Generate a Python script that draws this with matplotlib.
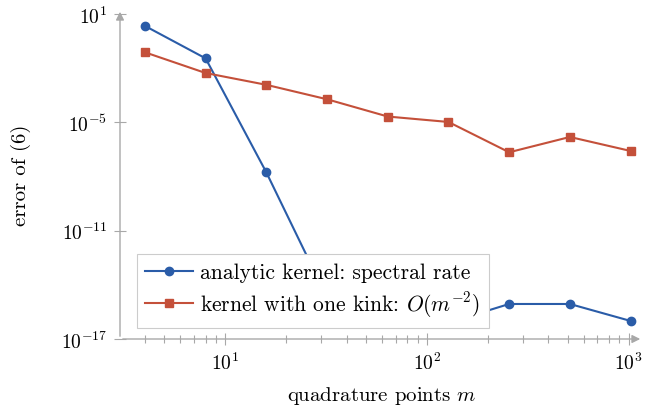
import numpy as np
import matplotlib
matplotlib.use('Agg')
import matplotlib.pyplot as plt

plt.rcParams['font.family'] = 'serif'
plt.rcParams['font.serif'] = ['cmr10', 'DejaVu Serif']
plt.rcParams['mathtext.fontset'] = 'cm'
plt.rcParams['axes.formatter.use_mathtext'] = True

# quadrature points
m = [4, 8, 16, 32, 64, 128, 256, 512, 1024]
# errors
err_analytic = [2.2, 3.5e-2, 1.7e-8, 2.0e-15, 1.5e-16, 8.0e-17, 8.7e-16, 8.7e-16, 1.0e-16]
err_kink = [7.6e-2, 5.4e-3, 1.2e-3, 1.9e-4, 2.1e-5, 1.05e-5, 2.2e-7, 1.55e-6, 2.6e-7]

blue = '#2a5ca8'
red = '#c4503a'
gray = '#a8a8a8'

fig = plt.figure(figsize=(6.45, 4.10), dpi=100)
ax = fig.add_axes([120/645, 70/410, 523/645, 330/410])

ax.plot(m, err_analytic, '-o', color=blue, lw=1.5, ms=6, label='analytic kernel: spectral rate')
ax.plot(m, err_kink, '-s', color=red, lw=1.5, ms=6, label='kernel with one kink: $O(m^{-2})$')

ax.set_xscale('log')
ax.set_yscale('log')
ax.set_xlim(3.01, 1180)
ax.set_ylim(1e-17, 19)
ax.set_yticks([1e1, 1e-5, 1e-11, 1e-17])
ax.yaxis.set_minor_locator(matplotlib.ticker.NullLocator())

for s in ['top', 'right', 'left', 'bottom']:
    ax.spines[s].set_visible(False)
ax.annotate('', xy=(1, 0), xytext=(0, 0), xycoords='axes fraction',
            arrowprops=dict(arrowstyle='-|>', color=gray, lw=1.0, mutation_scale=12))
ax.annotate('', xy=(0, 1), xytext=(0, 0), xycoords='axes fraction',
            arrowprops=dict(arrowstyle='-|>', color=gray, lw=1.0, mutation_scale=12))

ax.tick_params(which='major', direction='inout', length=8, width=0.8, color=gray, labelsize=14, pad=5)
ax.tick_params(which='minor', direction='inout', length=6, width=0.8, color=gray)

ax.set_xlabel('quadrature points $m$', fontsize=15, labelpad=8)
ax.set_ylabel('error of (6)', fontsize=15)
ax.yaxis.set_label_coords(-0.17, 0.5)

leg = ax.legend(loc='lower left', bbox_to_anchor=(0.032, 0.033), borderaxespad=0,
                fancybox=False, edgecolor='#cccccc', fontsize=15.5, handlelength=2.2,
                handletextpad=0.35, framealpha=1, borderpad=0.4, labelspacing=0.35)
leg.get_frame().set_linewidth(0.8)
leg.set_zorder(10)

fig.savefig('out.png', dpi=100)
